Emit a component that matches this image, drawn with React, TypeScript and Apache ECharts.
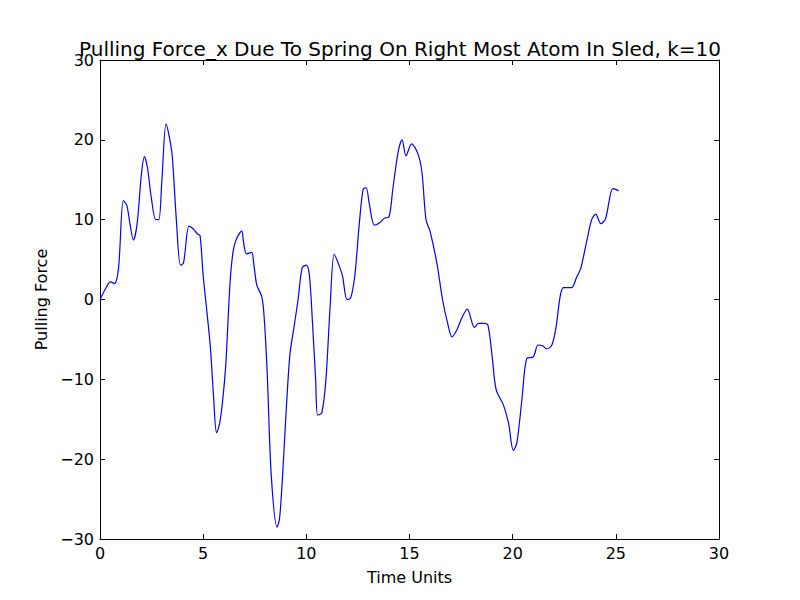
import { useRef, useEffect } from "react";
import * as echarts from "echarts";

// time units
const times = [
  0, 0.3, 0.5, 0.7, 0.9, 1.13, 1.3, 1.45, 1.62, 1.8, 2.0, 2.15, 2.3, 2.5, 2.7, 2.85, 3.0, 3.2, 3.35, 3.5, 3.7, 3.9, 4.05, 4.31,
  4.5, 4.73, 4.85, 5.0, 5.2, 5.35, 5.5, 5.65, 5.8, 5.95, 6.1, 6.3, 6.45, 6.6, 6.87, 6.95, 7.1, 7.35, 7.45, 7.6, 7.84,
  7.95, 8.1, 8.3, 8.58, 8.7, 8.85, 9.0, 9.2, 9.4, 9.6, 9.8, 10.0, 10.15, 10.3, 10.45, 10.55, 10.75, 10.95, 11.15,
  11.35, 11.55, 11.75, 11.97, 12.15, 12.35, 12.55, 12.75, 12.9, 13.05, 13.3, 13.55, 13.8, 14.0, 14.2, 14.45, 14.64,
  14.83, 15.1, 15.4, 15.6, 15.8, 16.0, 16.33, 16.6, 16.85, 17.06, 17.3, 17.5, 17.8, 18.15, 18.35, 18.6, 18.8,
  19.0, 19.2, 19.55, 19.8, 20.03, 20.2, 20.45, 20.68, 21.0, 21.23, 21.45, 21.65, 21.9, 22.1, 22.3, 22.46, 22.86,
  23.1, 23.3, 23.6, 23.83, 24.03, 24.27, 24.5, 24.85, 25.0, 25.13,
];
// pulling force
const force = [
  0, 1.5, 2.2, 2.0, 4, 12.4, 11.8, 9.5, 7.45, 9.5, 15.5, 17.9, 16.5, 12.5, 10, 10, 15, 22, 20.5, 18, 10, 4.3, 4.6, 9.2,
  8.9, 8.2, 8.0, 3, -2, -6, -12, -16.7, -15.5, -12.5, -8, 2, 6, 7.5, 8.6, 7.3, 5.7, 5.9, 4.5, 1.8, 0.35,
  -2, -9, -22, -28.5, -27.5, -22, -15, -7, -3.5, 0, 4, 4.3, 3, -3, -10, -14.5, -14.2, -10, -1,
  5.7, 4.5, 3, 0, 0.2, 3, 9, 13.8, 14, 12, 9.3, 9.6, 10.2, 10.3, 14, 18.5, 20,
  18, 19.5, 18.3, 16, 10, 8.5, 4.5, 0, -3, -4.7, -3.8, -2.5, -1.2, -3.5, -3, -3, -3.2,
  -7, -11.3, -13.2, -15.5, -18.9, -18, -12.5, -7.4, -7.2, -5.7, -5.8, -6.2, -5.7, -3.5, 0.35, 1.5, 1.5,
  2.8, 3.9, 7.45, 10, 10.7, 9.5, 10.1, 13.9, 13.8, 13.6,
];
const xTicks = [0, 5, 10, 15, 20, 25, 30];
const yTicks = [-30, -20, -10, 0, 10, 20, 30];

const font = "DejaVu Sans";

const App = () => {
  const chartRef = useRef<HTMLDivElement>(null);

  useEffect(() => {
    const chart = echarts.init(chartRef.current, null, { renderer: "svg" });
    const axisLine = { show: true, onZero: false, lineStyle: { color: "#000", width: 1 } };
    const tick = { show: true, inside: true, length: 5, lineStyle: { color: "#000" } };
    const label = { color: "#000", fontSize: 16, fontFamily: font };
    chart.setOption({
      animation: false,
      backgroundColor: "#fff",
      title: {
        text: "Pulling Force_x Due To Spring On Right Most Atom In Sled, k=10",
        left: "center",
        top: 34,
        textStyle: { color: "#000", fontSize: 20, fontWeight: "normal", fontFamily: font },
      },
      grid: { left: 100, right: 81, top: 60, bottom: 61 },
      xAxis: [
        {
          type: "value", min: xTicks[0], max: xTicks[xTicks.length - 1], interval: 5,
          name: "Time Units", nameLocation: "middle", nameGap: 30,
          nameTextStyle: { color: "#000", fontSize: 16, fontFamily: font },
          axisLine, axisTick: tick, axisLabel: { ...label, margin: 6 }, splitLine: { show: false },
        },
        {
          type: "value", position: "top", min: 0, max: 30, interval: 5,
          axisLine, axisTick: tick, axisLabel: { show: false }, splitLine: { show: false },
        },
      ],
      yAxis: [
        {
          type: "value", min: yTicks[0], max: yTicks[yTicks.length - 1], interval: 10,
          name: "Pulling Force", nameLocation: "middle", nameGap: 48,
          nameTextStyle: { color: "#000", fontSize: 16, fontFamily: font },
          axisLine, axisTick: tick,
          axisLabel: { ...label, margin: 6, formatter: (v: number) => (v < 0 ? "\u2212" + -v : String(v)) },
          splitLine: { show: false },
        },
        {
          type: "value", position: "right", min: -30, max: 30, interval: 10,
          axisLine, axisTick: tick, axisLabel: { show: false }, splitLine: { show: false },
        },
      ],
      series: [
        {
          type: "line",
          data: times.map((t, i) => [t, force[i]]),
          showSymbol: false,
          smooth: 0.3,
          lineStyle: { color: "#0000ff", width: 1.2 },
        },
      ],
    });
    return () => chart.dispose();
  }, []);

  return <div ref={chartRef} style={{ width: 800, height: 600, margin: -8 }} />;
};

export default App;
